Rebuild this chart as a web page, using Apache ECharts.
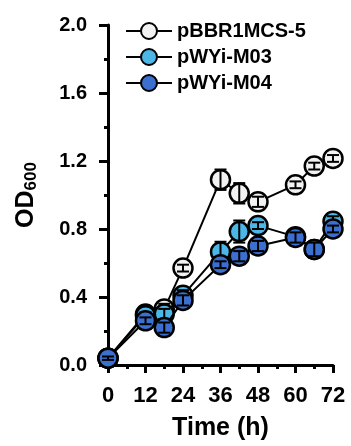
<!DOCTYPE html>
<html>
<head>
<meta charset="utf-8">
<script src="https://cdn.jsdelivr.net/npm/echarts@6/dist/echarts.min.js"></script>
<style>
  html, body { margin: 0; padding: 0; background: #fff; }
  #chart { width: 351px; height: 446px; }
</style>
</head>
<body>
<div id="chart"></div>
<script>
  // time points (h)
  const hours = [0, 12, 18, 24, 36, 42, 48, 60, 66, 72]
  const xTicks = [0, 12, 24, 36, 48, 60, 72]

  const names = ['pBBR1MCS-5', 'pWYi-M03', 'pWYi-M04']
  const colors = ['#f2f2f2', '#4cb6e6', '#3b6fd0']

  // mean OD600
  const odMCS = [0.04, 0.30, 0.33, 0.57, 1.09, 1.01, 0.96, 1.06, 1.17, 1.215]
  const odM03 = [0.04, 0.29, 0.30, 0.41, 0.665, 0.785, 0.82, 0.755, 0.68, 0.845]
  const odM04 = [0.04, 0.26, 0.22, 0.38, 0.59, 0.64, 0.70, 0.75, 0.68, 0.80]

  // standard deviation
  const sdMCS = [0.01, 0.02, 0.03, 0.02, 0.06, 0.06, 0.03, 0.02, 0.02, 0.02]
  const sdM03 = [0.01, 0.02, 0.03, 0.03, 0.06, 0.065, 0.02, 0.02, 0.02, 0.03]
  const sdM04 = [0.01, 0.02, 0.03, 0.03, 0.02, 0.03, 0.03, 0.03, 0.04, 0.02]

  const means = [odMCS, odM03, odM04]
  const sds = [sdMCS, sdM03, sdM04]

  const font = 'Arial, "Liberation Sans", sans-serif'
  const chart = echarts.init(document.getElementById('chart'))

  function errorSeries(i) {
    return {
      type: 'custom',
      name: names[i] + ' err',
      z: 3 + i * 2,
      data: hours.map((h, k) => [h, means[i][k] - sds[i][k], means[i][k] + sds[i][k]]),
      renderItem: function (params, api) {
        const lo = api.coord([api.value(0), api.value(1)])
        const hi = api.coord([api.value(0), api.value(2)])
        const w = 6
        const style = { stroke: '#000', lineWidth: 2 }
        return {
          type: 'group',
          children: [
            { type: 'line', shape: { x1: lo[0], y1: lo[1], x2: hi[0], y2: hi[1] }, style: style },
            { type: 'line', shape: { x1: lo[0] - w, y1: lo[1], x2: lo[0] + w, y2: lo[1] }, style: style },
            { type: 'line', shape: { x1: hi[0] - w, y1: hi[1], x2: hi[0] + w, y2: hi[1] }, style: style }
          ]
        }
      }
    }
  }

  const series = []
  names.forEach((n, i) => {
    series.push({
      type: 'line',
      name: n,
      z: 2 + i * 2,
      data: hours.map((h, k) => [h, means[i][k]]),
      symbol: 'circle',
      symbolSize: 19,
      showAllSymbol: true,
      lineStyle: { color: '#000', width: 2 },
      itemStyle: { color: colors[i], borderColor: '#000', borderWidth: 2.5 },
      emphasis: { disabled: true }
    })
    series.push(errorSeries(i))
  })

  const option = {
    animation: false,
    textStyle: { fontFamily: font },
    grid: { left: 108, right: 18, top: 25, bottom: 81 },
    legend: {
      data: names,
      orient: 'vertical',
      left: 120,
      top: 16,
      itemWidth: 46,
      itemHeight: 20,
      itemGap: 6,
      textStyle: { fontSize: 20, fontWeight: 'bold', color: '#000', fontFamily: font }
    },
    xAxis: {
      type: 'value',
      min: 0,
      max: 72,
      interval: 12,
      name: 'Time (h)',
      nameLocation: 'middle',
      nameGap: 51,
      nameTextStyle: { fontSize: 25, fontWeight: 'bold', color: '#000', fontFamily: font },
      axisLine: { show: true, onZero: false, lineStyle: { color: '#000', width: 3 } },
      axisTick: { show: true, length: 8, lineStyle: { color: '#000', width: 3 } },
      minorTick: { show: true, splitNumber: 2, length: 4, lineStyle: { color: '#000', width: 3 } },
      axisLabel: {
        margin: 20,
        fontSize: 22,
        fontWeight: 'bold',
        color: '#000',
        formatter: v => xTicks.includes(v) ? String(v) : ''
      },
      splitLine: { show: false }
    },
    yAxis: {
      type: 'value',
      min: 0,
      max: 2,
      interval: 0.4,
      name: '{b|OD}{s|600}',
      nameLocation: 'middle',
      nameGap: 68,
      nameRotate: 90,
      nameTextStyle: {
        color: '#000',
        rich: {
          b: { fontSize: 25, fontWeight: 'bold', color: '#000', fontFamily: font },
          s: { fontSize: 17, fontWeight: 'bold', color: '#000', fontFamily: font, padding: [10, 0, 0, 0] }
        }
      },
      axisLine: { show: true, lineStyle: { color: '#000', width: 3 } },
      axisTick: { show: true, length: 9, lineStyle: { color: '#000', width: 3 } },
      minorTick: { show: true, splitNumber: 2, length: 4, lineStyle: { color: '#000', width: 3 } },
      axisLabel: {
        margin: 21,
        fontSize: 20,
        fontWeight: 'bold',
        color: '#000',
        formatter: v => v.toFixed(1)
      },
      splitLine: { show: false }
    },
    series: series
  }

  chart.setOption(option)
</script>
</body>
</html>
